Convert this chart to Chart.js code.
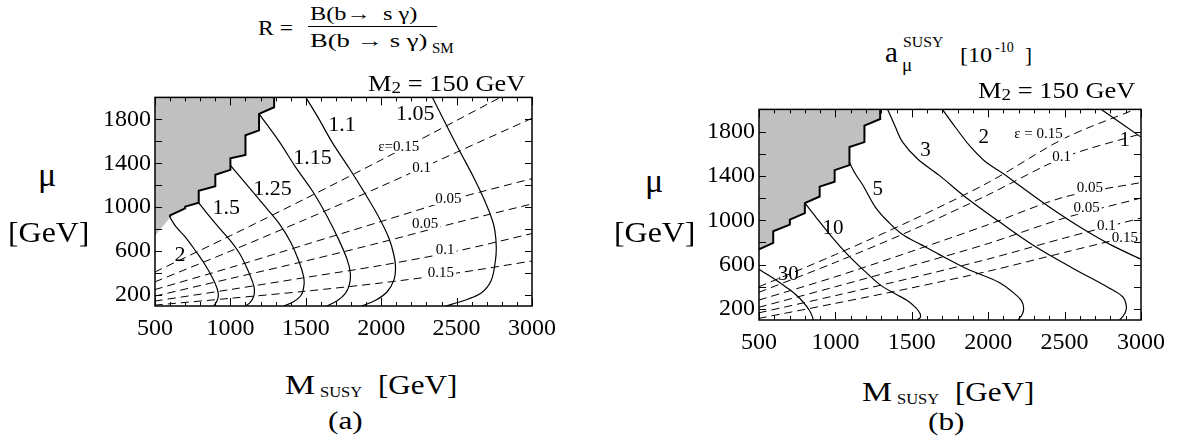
<!DOCTYPE html>
<html>
<head>
<meta charset="utf-8">
<script src="https://cdn.jsdelivr.net/npm/chart.js@4.4.1/dist/chart.umd.min.js"></script>
<style>
  body { margin: 0; background: #fff; width: 1182px; height: 442px; position: relative; overflow: hidden; font-family: "Liberation Serif", "Times New Roman", Tinos, serif; color: #000; }
  .box { position: absolute; }
  .t { position: absolute; white-space: nowrap; line-height: 1; transform-origin: 0 0; }
  .sub { font-size: 0.72em; position: relative; top: 0.12em; }
</style>
</head>
<body>

<div class="box" style="left:90px;top:79px;width:474px;height:271px"><canvas id="chartA"></canvas></div>
<div class="box" style="left:694px;top:91px;width:479px;height:273px"><canvas id="chartB"></canvas></div>

<!-- panel (a) texts -->
<div class="t" style="left:258px;top:18px;font-size:20px;transform:scaleX(1.18)">R =</div>
<div class="t" style="left:310px;top:4px;font-size:19px;transform:scaleX(1.28)">B(b→&nbsp; s γ)</div>
<div style="position:absolute;left:308px;top:26px;width:129px;height:1px;background:#000"></div>
<div class="t" style="left:310px;top:31px;font-size:19px;transform:scaleX(1.4)">B(b → s γ)</div>
<div class="t" style="left:432px;top:41px;font-size:15px">SM</div>
<div class="t" style="left:368px;top:72px;font-size:23px;transform:scaleX(1.15)">M<span class="sub">2</span> = 150 GeV</div>
<div class="t" style="left:38px;top:158px;font-size:34px">μ</div>
<div class="t" style="left:8px;top:218px;font-size:29px;transform:scaleX(1.1)">[GeV]</div>
<div class="t" style="left:285px;top:372px;font-size:27px;transform:scaleX(1.25)">M</div>
<div class="t" style="left:320px;top:385px;font-size:15px;transform:scaleX(1.1)">SUSY</div>
<div class="t" style="left:378px;top:372px;font-size:27px;transform:scaleX(1.15)">[GeV]</div>
<div class="t" style="left:328px;top:408px;font-size:25px;transform:scaleX(1.25)">(a)</div>

<!-- panel (b) texts -->
<div class="t" style="left:885px;top:38px;font-size:29px">a</div>
<div class="t" style="left:903px;top:35px;font-size:15px;transform:scaleX(1.05)">SUSY</div>
<div class="t" style="left:902px;top:55px;font-size:19px">μ</div>
<div class="t" style="left:960px;top:45px;font-size:21px;transform:scaleX(1.15)">[10</div>
<div class="t" style="left:995px;top:41px;font-size:14px">-10</div>
<div class="t" style="left:1025px;top:45px;font-size:21px">]</div>
<div class="t" style="left:978px;top:79px;font-size:23px;transform:scaleX(1.15)">M<span class="sub">2</span> = 150 GeV</div>
<div class="t" style="left:645px;top:164px;font-size:34px">μ</div>
<div class="t" style="left:614px;top:218px;font-size:29px;transform:scaleX(1.1)">[GeV]</div>
<div class="t" style="left:862px;top:379px;font-size:27px;transform:scaleX(1.25)">M</div>
<div class="t" style="left:897px;top:392px;font-size:15px;transform:scaleX(1.1)">SUSY</div>
<div class="t" style="left:955px;top:379px;font-size:27px;transform:scaleX(1.15)">[GeV]</div>
<div class="t" style="left:928px;top:409px;font-size:25px;transform:scaleX(1.25)">(b)</div>

<script>
// axis ticks shared by both panels
const xTicks = [500, 1000, 1500, 2000, 2500, 3000];
const yTicks = [200, 600, 1000, 1400, 1800];

// ---- panel (a): R = B(b->s gamma)/B_SM, [M_SUSY, mu] ----
const greyEdgeA = [[500,740],[600,905],[600,925],[700,990],[700,1005],[790,1040],[790,1150],[900,1190],[900,1295],[1000,1340],[1000,1445],[1100,1475],[1100,1655],[1190,1700],[1190,1850],[1290,1910],[1290,2000]];
const rCurve2   = [[600,905],[640,820],[700,730],[770,600],[830,480],[880,360],[912,260],[920,200],[912,150],[890,100]];
const rCurve150 = [[790,1040],[841,950],[920,820],[1000,695],[1060,580],[1105,460],[1140,345],[1158,265],[1155,190],[1130,130],[1100,100]];
const rCurve125 = [[1000,1380],[1146,1145],[1240,990],[1325,848],[1400,680],[1456,500],[1485,370],[1488,290],[1470,200],[1420,140],[1355,100]];
const rCurve115 = [[1190,1850],[1325,1595],[1430,1370],[1545,1145],[1640,920],[1720,700],[1775,520],[1795,400],[1790,300],[1760,210],[1710,150],[1640,100]];
const rCurve110 = [[1500,2000],[1580,1820],[1675,1590],[1790,1350],[1897,1115],[1980,920],[2050,722],[2085,560],[2095,450],[2085,340],[2040,230],[1960,150],[1870,100]];
const rCurve105 = [[2340,2000],[2420,1780],[2523,1505],[2610,1280],[2688,1055],[2735,890],[2754,785],[2763,640],[2758,520],[2730,335],[2663,218],[2560,155],[2490,125],[2430,100]];
const epsA1 = [[500,410],[1000,740],[1500,1080],[2000,1430],[2500,1790],[2790,2000]];
const epsA2 = [[500,320],[1000,600],[1500,890],[2000,1190],[2500,1500],[3000,1810]];
const epsA3 = [[500,250],[1000,450],[1500,660],[2000,870],[2500,1080],[3000,1260]];
const epsA4 = [[500,190],[1000,350],[1500,510],[2000,680],[2500,860],[3000,1030]];
const epsA5 = [[500,145],[1000,250],[1500,360],[2000,470],[2500,600],[3000,760]];
const epsA6 = [[500,108],[1000,170],[1500,235],[2000,310],[2500,400],[3000,510]];
const rLabels = [
  { text: '2', x: 665, y: 560 }, { text: '1.5', x: 973, y: 995 }, { text: '1.25', x: 1280, y: 1163 },
  { text: '1.15', x: 1545, y: 1445 }, { text: '1.1', x: 1740, y: 1745 }, { text: '1.05', x: 2226, y: 1850 }
];
const epsLabelsA = [
  { text: 'ε=0.15', x: 2116, y: 1550 }, { text: '0.1', x: 2268, y: 1355 }, { text: '0.05', x: 2446, y: 1073 },
  { text: '0.05', x: 2292, y: 850 }, { text: '0.1', x: 2424, y: 605 }, { text: '0.15', x: 2395, y: 398 }
];

// ---- panel (b): a_mu^SUSY [1e-10] ----
const greyEdgeB = [[500,737],[593,796],[593,901],[702,960],[702,1005],[800,1064],[800,1154],[897,1214],[897,1303],[995,1348],[995,1452],[1092,1497],[1092,1660],[1190,1705],[1190,1854],[1293,1913],[1293,2000]];
const aCurve30 = [[500,558],[560,505],[620,452],[680,394],[740,330],[790,260],[830,186],[848,135],[855,100]];
const aCurve10 = [[800,1154],[840,1085],[877,1020],[982,841],[1080,690],[1190,543],[1300,410],[1400,330],[1470,275],[1527,210],[1553,160],[1556,125],[1535,100]];
const aCurve5  = [[1092,1520],[1130,1420],[1179,1318],[1266,1109],[1350,980],[1440,871],[1560,780],[1678,692],[1863,560],[2069,440],[2170,340],[2219,270],[2232,205],[2222,150],[2195,100]];
const aCurve3  = [[1342,2000],[1390,1850],[1440,1705],[1540,1550],[1678,1407],[1850,1210],[2069,990],[2300,770],[2550,570],[2785,394],[2880,310],[2904,225],[2895,160],[2860,100]];
const aCurve2  = [[1700,2000],[1790,1830],[1880,1670],[1980,1530],[2100,1420],[2200,1318],[2400,1120],[2611,930],[2800,780],[3000,648]];
const aCurve1  = [[2740,2000],[3000,1750]];
const epsB1 = [[500,400],[1000,690],[1500,1000],[2000,1340],[2500,1740],[2960,2000]];
const epsB2 = [[500,350],[1000,620],[1500,910],[2000,1230],[2500,1570],[3000,1780]];
const epsB3 = [[500,280],[1000,490],[1500,720],[2000,960],[2500,1210],[3000,1340]];
const epsB4 = [[500,215],[1000,400],[1500,590],[2000,790],[2500,1020],[3000,1200]];
const epsB5 = [[500,165],[1000,320],[1500,480],[2000,650],[2500,840],[3000,1020]];
const epsB6 = [[500,115],[1000,250],[1500,390],[2000,540],[2500,710],[3000,880]];
const aLabels = [
  { text: '30', x: 691, y: 514 }, { text: '10', x: 984, y: 930 }, { text: '5', x: 1277, y: 1273 },
  { text: '3', x: 1590, y: 1630 }, { text: '2', x: 1971, y: 1750 }, { text: '1', x: 2894, y: 1720 }
];
const epsLabelsB = [
  { text: 'ε = 0.15', x: 2329, y: 1780 }, { text: '0.1', x: 2481, y: 1571 }, { text: '0.05', x: 2666, y: 1288 },
  { text: '0.05', x: 2644, y: 1109 }, { text: '0.1', x: 2774, y: 952 }, { text: '0.15', x: 2894, y: 841 }
];

const FONT = '"Liberation Serif", serif';
Chart.defaults.font.family = FONT;
Chart.defaults.color = '#000';

const toPts = arr => arr.map(([x, y]) => ({ x, y }));

function solid(arr) {
  return { data: toPts(arr), showLine: true, borderColor: '#000', borderWidth: 1.2, pointRadius: 0, tension: 0.35, fill: false };
}
function dashed(arr) {
  return { data: toPts(arr), showLine: true, borderColor: '#000', borderWidth: 1, borderDash: [8, 5], pointRadius: 0, tension: 0.3, fill: false };
}
// grey excluded area: fill up to the top of the plot, no outline
function greyFill(arr) {
  return { data: toPts(arr), showLine: true, borderWidth: 0, borderColor: 'rgba(0,0,0,0)', pointRadius: 0, tension: 0, backgroundColor: '#c0c0c0', fill: 'end' };
}
function greyEdge(arr) {
  return { data: toPts(arr), showLine: true, borderColor: '#000', borderWidth: 2, pointRadius: 0, tension: 0, fill: false };
}

function axes() {
  const tickFont = { family: FONT, size: 24 };
  return {
    x: {
      type: 'linear', min: 500, max: 3000,
      afterBuildTicks: s => { s.ticks = xTicks.map(v => ({ value: v })); },
      afterFit: s => { s.height = 44; },
      grid: { display: false, drawTicks: false }, border: { display: false },
      ticks: { font: tickFont, color: '#000', padding: 8, maxRotation: 0, autoSkip: false, callback: v => String(v) }
    },
    y: {
      type: 'linear', min: 100, max: 2000,
      afterBuildTicks: s => { s.ticks = yTicks.map(v => ({ value: v })); },
      afterFit: s => { s.width = 65; },
      grid: { display: false, drawTicks: false }, border: { display: false },
      ticks: { font: tickFont, color: '#000', padding: 4, autoSkip: false, callback: v => String(v) }
    }
  };
}

// frame with inward ticks + in-plot contour labels
function panelPlugin(valueLabels, epsLabels, valueSize) {
  return {
    id: 'panelFrame',
    afterDatasetsDraw(chart) {
      const { ctx, chartArea: a, scales: { x, y } } = chart;
      ctx.save();
      ctx.textAlign = 'center';
      ctx.textBaseline = 'middle';
      ctx.fillStyle = '#000';
      ctx.font = valueSize + 'px ' + FONT;
      valueLabels.forEach(l => ctx.fillText(l.text, x.getPixelForValue(l.x), y.getPixelForValue(l.y)));

      ctx.font = '15px ' + FONT;
      epsLabels.forEach(l => {
        const px = x.getPixelForValue(l.x), py = y.getPixelForValue(l.y);
        const w = ctx.measureText(l.text).width;
        ctx.fillStyle = '#fff';
        ctx.fillRect(px - w / 2 - 2, py - 6, w + 4, 12);
        ctx.fillStyle = '#000';
        ctx.fillText(l.text, px, py);
      });

      ctx.strokeStyle = '#000';
      ctx.lineWidth = 1;
      ctx.beginPath();
      for (let v = 500; v <= 3000; v += 100) {
        const px = Math.round(x.getPixelForValue(v)) + 0.5;
        const len = v % 500 === 0 ? 8 : 4;
        ctx.moveTo(px, a.bottom); ctx.lineTo(px, a.bottom - len);
        ctx.moveTo(px, a.top); ctx.lineTo(px, a.top + len);
      }
      for (let v = 200; v <= 1800; v += 200) {
        const py = Math.round(y.getPixelForValue(v)) + 0.5;
        ctx.moveTo(a.left, py); ctx.lineTo(a.left + 7, py);
        ctx.moveTo(a.right, py); ctx.lineTo(a.right - 7, py);
      }
      ctx.stroke();
      ctx.lineWidth = 1.5;
      ctx.strokeRect(a.left, a.top, a.right - a.left, a.bottom - a.top);
      ctx.restore();
    }
  };
}

function baseOptions() {
  return {
    responsive: true, maintainAspectRatio: false, animation: false, events: [],
    layout: { padding: { left: 0, top: 16, right: 30, bottom: 0 } },
    plugins: { legend: { display: false }, tooltip: { enabled: false } },
    scales: axes()
  };
}

new Chart(document.getElementById('chartA'), {
  type: 'scatter',
  data: {
    datasets: [
      greyEdge(greyEdgeA.slice(1)), greyFill(greyEdgeA),
      solid(rCurve2), solid(rCurve150), solid(rCurve125), solid(rCurve115), solid(rCurve110), solid(rCurve105),
      dashed(epsA1), dashed(epsA2), dashed(epsA3), dashed(epsA4), dashed(epsA5), dashed(epsA6)
    ]
  },
  options: baseOptions(),
  plugins: [panelPlugin(rLabels, epsLabelsA, 22)]
});

new Chart(document.getElementById('chartB'), {
  type: 'scatter',
  data: {
    datasets: [
      greyEdge(greyEdgeB), greyFill(greyEdgeB),
      solid(aCurve30), solid(aCurve10), solid(aCurve5), solid(aCurve3), solid(aCurve2), solid(aCurve1),
      dashed(epsB1), dashed(epsB2), dashed(epsB3), dashed(epsB4), dashed(epsB5), dashed(epsB6)
    ]
  },
  options: baseOptions(),
  plugins: [panelPlugin(aLabels, epsLabelsB, 21)]
});
</script>
</body>
</html>
